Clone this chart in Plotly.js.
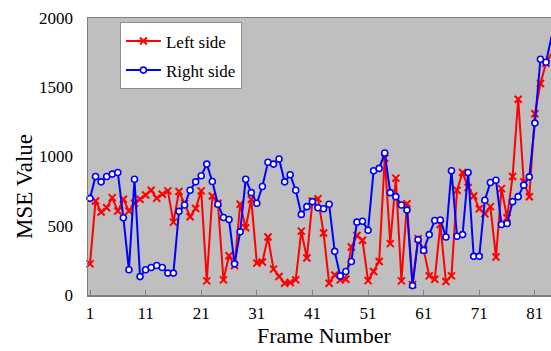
<!DOCTYPE html>
<html>
<head>
<meta charset="utf-8">
<script src="https://cdn.plot.ly/plotly-3.0.1.min.js"></script>
<style>html,body{margin:0;padding:0;background:#fff;}#chart{width:551px;height:351px;}</style>
</head>
<body>
<div id="chart"></div>
<script>
const frames = Array.from({length: 84}, (_, i) => i + 1);
const leftSide = [225,679,599,630,703,606,691,606,662,691,
  722,756,698,727,752,526,747,662,565,625,
  752,102,715,662,109,284,213,655,485,691,
  230,238,419,187,133,85,90,109,461,267,
  679,696,448,85,145,109,114,347,429,395,
  104,170,242,987,371,844,102,659,75,407,
  327,138,114,509,97,138,756,885,776,715,
  623,587,638,274,768,558,856,1413,817,710,
  1309,1527,1673,1745];
const rightSide = [698,856,817,856,873,885,558,182,836,133,
  182,199,213,199,158,158,604,650,756,817,
  861,945,819,655,560,545,225,456,836,739,
  662,783,958,945,982,817,868,756,582,638,
  674,630,623,655,315,138,170,242,526,533,
  468,897,914,1025,739,710,650,613,68,400,
  322,436,538,541,419,897,424,436,885,279,
  279,684,812,829,509,516,674,710,793,853,
  1241,1702,1680,1867];
const xTicks = [1,11,21,31,41,51,61,71,81];
const yTicks = [0,500,1000,1500,2000];

const serif = 'Liberation Serif, Times New Roman, serif';

const traces = [
  {x: frames, y: leftSide, name: 'Left side', type: 'scatter', mode: 'lines+markers',
   legendgroup: 'a', cliponaxis: false,
   line: {color: '#ff0000', width: 2},
   marker: {symbol: 'x-thin', size: 7, color: '#ff0000', line: {color: '#ff0000', width: 2}}},
  {x: frames, y: rightSide, name: 'Right side', type: 'scatter', mode: 'lines+markers',
   legendgroup: 'b', cliponaxis: false,
   line: {color: '#0000ff', width: 2},
   marker: {symbol: 'circle', size: 6, color: '#ffffff', line: {color: '#0000ff', width: 1.6}}}
];

const layout = {
  width: 551, height: 351,
  margin: {l: 88, r: 0, t: 18, b: 56, pad: 0},
  paper_bgcolor: '#ffffff',
  plot_bgcolor: '#bfbfbf',
  font: {family: serif, size: 17, color: '#000'},
  showlegend: true,
  legend: {x: 0.069, y: 0.984, xanchor: 'left', yanchor: 'top',
    bgcolor: '#ffffff', bordercolor: '#8c8c8c', borderwidth: 1,
    font: {family: serif, size: 17, color: '#000'},
    itemwidth: 35, tracegroupgap: 4, traceorder: 'grouped'},
  xaxis: {range: [0.64, 83.9], tickvals: xTicks, ticktext: xTicks.map(String),
    showgrid: false, zeroline: false, showline: true, mirror: true,
    linecolor: '#7f7f7f', linewidth: 1.5,
    ticks: 'inside', ticklen: 5, tickcolor: '#7f7f7f', tickwidth: 1,
    ticklabelstandoff: 2,
    tickfont: {family: serif, size: 17, color: '#000'}},
  yaxis: {range: [0, 2000], tickvals: yTicks, ticktext: yTicks.map(String),
    showgrid: false, zeroline: false, showline: true, mirror: false,
    linecolor: '#7f7f7f', linewidth: 1.5, ticks: '',
    ticklabelstandoff: 10,
    tickfont: {family: serif, size: 17, color: '#000'}},
  annotations: [
    {text: 'MSE Value', xref: 'paper', yref: 'paper', x: -0.136, y: 0.39,
     xanchor: 'center', yanchor: 'middle', textangle: -90, showarrow: false,
     font: {family: serif, size: 23, color: '#000'}},
    {text: 'Frame Number', xref: 'paper', yref: 'paper', x: 0.51, y: -0.148,
     xanchor: 'center', yanchor: 'middle', showarrow: false,
     font: {family: serif, size: 22, color: '#000'}}
  ]
};

Plotly.newPlot('chart', traces, layout, {displayModeBar: false, staticPlot: true});
</script>
</body>
</html>
